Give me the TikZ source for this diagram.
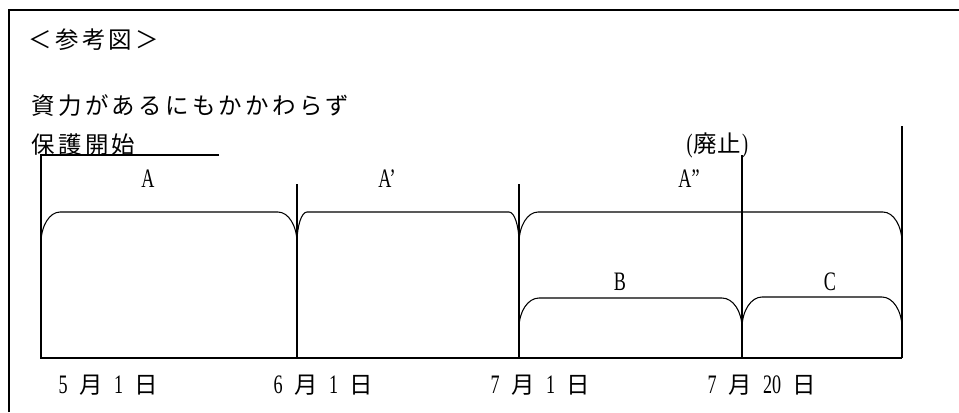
\documentclass[tikz,border=0pt]{standalone}
\usepackage{fontspec}
\usepackage{graphicx}
\setmainfont{Liberation Serif}
\newfontfamily\jp{Noto Sans CJK JP}
\newfontfamily\jpwide{Noto Sans CJK JP}[LetterSpace=14]
% condensed serif Latin letters and digits
\newcommand\lat[1]{\scalebox{0.68}[1]{\rmfamily\fontsize{20pt}{20pt}\selectfont #1}}
% date label: digit, 月, digit, 日
\newcommand\datelabel[2]{\lat{#1}\hspace{8.6pt}{\jp 月}\hspace{8.6pt}\lat{#2}\hspace{8.6pt}{\jp 日}}
% a period bracket: x1, x2, top y, bottom y, corner width
\newcommand\spanarc[5]{%
  \draw (#1,#4) .. controls (#1,{#4+0.5523*(#3-#4)}) and ({#1+0.4477*#5},#3) .. ({#1+#5},#3)
    -- ({#2-#5},#3) .. controls ({#2-0.4477*#5},#3) and (#2,{#4+0.5523*(#3-#4)}) .. (#2,#4);}
\begin{document}
\begin{tikzpicture}[x=0.75pt,y=-0.75pt,line width=0.8pt,
  jptext/.style={inner sep=0pt,anchor=west,font=\jpwide\fontsize{17.6pt}{20pt}\selectfont},
  lbl/.style={inner sep=0pt,anchor=center},
  datetext/.style={inner sep=0pt,anchor=west,font=\jp\fontsize{17.6pt}{20pt}\selectfont}]
\useasboundingbox (0,0) rectangle (959,412);

% frame
\draw (9,412) -- (9,10) -- (959,10);

% headings
\node[jptext] (title) at (28,40) {＜参考図＞};
\node[jptext] (note1) at (31,106) {資力があるにもかかわらず};
\node[jptext] (note2) at (31,145) {保護開始};
\node[datetext] (abol) at (686,145) {\lat{(}\hspace{1pt}廃止\hspace{1pt}\lat{)}};

% time axis and ticks
\coordinate (t0) at (41,358);
\coordinate (t1) at (297,358);
\coordinate (t2) at (519,358);
\coordinate (t3) at (742,358);
\coordinate (t4) at (902,358);
\draw (219,155) -- (41,155) -- (t0) -- (t4);
\draw (297,184) -- (t1);
\draw (519,184) -- (t2);
\draw (742,155) -- (t3);
\draw (902,126) -- (t4);

% periods
\spanarc{41}{297}{212}{243}{19}
\spanarc{297}{519}{212}{243}{10}
\spanarc{519}{902}{212}{243}{19}
\spanarc{519}{742}{298}{328}{20}
\spanarc{742}{902}{297}{328}{20}

% period labels
\node[lbl] (la) at (148,179) {\lat{A}};
\node[lbl] (lap) at (387,179) {\lat{A’}};
\node[lbl] (lapp) at (689,179) {\lat{A”}};
\node[lbl] (lb) at (620,282) {\lat{B}};
\node[lbl] (lc) at (830,282) {\lat{C}};

% dates
\node[datetext] (d1) at (58,385) {\datelabel{5}{1}};
\node[datetext] (d2) at (273,385) {\datelabel{6}{1}};
\node[datetext] (d3) at (490,385) {\datelabel{7}{1}};
\node[datetext] (d4) at (707,385) {\datelabel{7}{20}};
\end{tikzpicture}
\end{document}
